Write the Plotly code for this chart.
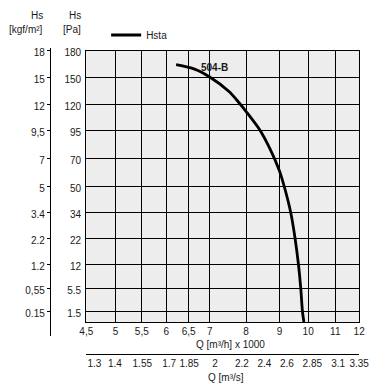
import numpy as np
import plotly.graph_objects as go

# ---------------- data ----------------
q_ticks = [4.5, 5, 5.5, 6, 6.5, 7, 8, 9, 10, 11, 12]
q_ticktext = ["4,5", "5", "5,5", "6", "6,5", "7", "8", "9", "10", "11", "12"]
qs_ticktext = ["1.3", "1.4", "1.55", "1.7", "1.85", "2", "2.2", "2.4", "2.6", "2.85", "3.1", "3.35"]
pa_ticks = [180, 150, 120, 95, 70, 50, 34, 22, 12, 5.5, 1.5]
pa_ticktext = ["180", "150", "120", "95", "70", "50", "34", "22", "12", "5.5", "1.5"]
kgf_ticktext = ["18", "15", "12", "9,5", "7", "5", "3.4", "2.2", "1.2", "0,55", "0.15"]

# Hsta curve of fan 504-B : Q [m3/h x 1000] vs Hs [Pa]
q_curve = [6.22, 6.64, 7.0, 7.53, 7.8, 8.0, 8.41, 8.70, 8.99, 9.16, 9.39, 9.54, 9.66, 9.74, 9.80, 9.85]
pa_curve = [164, 159, 150, 133.9, 121.7, 112.9, 95.5, 79.4, 61.4, 49.9, 34, 22, 12, 5.5, 1.5, 0]

# ---------------- layout constants (chart's non-linear scales, in px) ----------------
Q_POS = [0, 29.8, 56.8, 81.8, 104.8, 126.3, 163.6, 197.8, 227.1, 254.8, 279.3]
QS_POS = [8.3, 29.3, 57.3, 84.8, 105.3, 131.8, 159.3, 182.3, 205.3, 231.3, 257.8, 279.3]
PA_POS = [271.3, 245, 218, 191.5, 163.5, 136, 109.5, 84, 57.5, 34, 10.5]

OFF = 8  # page body margin
W, H = 381, 376
ML, MR, MT, MB = 12, 21, 32, 20
PW, PH = W - ML - MR, H - MT - MB


def fx(px):  # screen px -> paper fraction
    return (px - OFF - ML) / PW


def fy(py):
    return (H - MB - (py - OFF)) / PH


# scale transform through the axes' tick scales
xc = np.interp(q_curve, q_ticks, Q_POS)
pa_asc = [0] + pa_ticks[::-1]
pos_asc = [0] + PA_POS[::-1]
yc = np.interp(pa_curve, pa_asc, pos_asc)

FONT = "Liberation Sans, Arial, sans-serif"
TXT = "#1a1a1a"

fig = go.Figure()
fig.add_trace(go.Scatter(x=xc, y=yc, mode="lines", name="Hsta",
                         line=dict(color="black", width=2.8, shape="spline", smoothing=0.8),
                         xaxis="x", yaxis="y"))
# helpers so the secondary axes are drawn
fig.add_trace(go.Scatter(x=[None], y=[None], xaxis="x2", yaxis="y", showlegend=False, hoverinfo="skip"))
fig.add_trace(go.Scatter(x=[None], y=[None], xaxis="x3", yaxis="y2", showlegend=False, hoverinfo="skip"))

plot_top, plot_bot = 50.7, 322
fig.update_layout(
    width=W, height=H,
    margin=dict(l=ML, r=MR, t=MT, b=MB),
    paper_bgcolor="white", plot_bgcolor="white",
    font=dict(family=FONT, size=10, color=TXT),
    showlegend=True,
    legend=dict(x=fx(101), y=fy(35), xanchor="left", yanchor="middle",
                bgcolor="rgba(0,0,0,0)", font=dict(size=10, color=TXT)),
    xaxis=dict(domain=[fx(80.7), fx(360)], range=[0, 279.3], anchor="y",
               tickmode="array", tickvals=Q_POS, ticktext=q_ticktext,
               showgrid=True, gridcolor="black", gridwidth=1.3,
               showline=True, linecolor="black", linewidth=1.3, mirror=True,
               ticks="", zeroline=False, tickfont=dict(size=10, color=TXT)),
    yaxis=dict(domain=[fy(plot_bot), fy(plot_top)], range=[0, 271.3], anchor="x",
               tickmode="array", tickvals=PA_POS, ticktext=pa_ticktext,
               showgrid=True, gridcolor="black", gridwidth=1.3,
               showline=True, linecolor="black", linewidth=1.3, mirror=True,
               ticks="", zeroline=False, ticklabelshift=2, ticklabelstandoff=2,
               tickfont=dict(size=10, color=TXT)),
    xaxis2=dict(overlaying="x", anchor="free", position=fy(354), side="bottom",
                range=[0, 279.3], tickmode="array", tickvals=QS_POS, ticktext=qs_ticktext,
                showgrid=False, zeroline=False, showline=True, linecolor="black", linewidth=1.2,
                ticks="", tickfont=dict(size=10, color=TXT)),
    xaxis3=dict(domain=[fx(44.5), fx(70)], anchor="y2", visible=False, range=[0, 1]),
    yaxis2=dict(domain=[fy(336), fy(48)], anchor="x3", side="left",
                range=[322 - 336, 322 - 48], tickmode="array", tickvals=PA_POS, ticktext=kgf_ticktext,
                showgrid=False, zeroline=False, showline=True, linecolor="black", linewidth=1.3,
                ticks="outside", ticklen=3, tickcolor="black", tickwidth=1,
                ticklabelshift=2, tickfont=dict(size=10, color=TXT)),
    shapes=[dict(type="rect", xref="x domain", yref="y domain", x0=0, x1=1, y0=0, y1=1,
                 fillcolor="#ECEDEC", line=dict(width=0), layer="below")],
)

ann = [
    dict(text="Hs", x=fx(38), y=fy(15), xanchor="right"),
    dict(text="[kgf/m²]", x=fx(38), y=fy(29), xanchor="right"),
    dict(text="Hs", x=fx(77), y=fy(15), xanchor="right"),
    dict(text="[Pa]", x=fx(77), y=fy(29), xanchor="right"),
    dict(text="Q [m³/h] x 1000", x=fx(228), y=fy(344), xanchor="center"),
    dict(text="Q [m³/s]", x=fx(224), y=fy(377), xanchor="center"),
    dict(text="<b>504-B</b>", x=fx(212), y=fy(67), xanchor="center"),
]
for a in ann:
    fig.add_annotation(xref="paper", yref="paper", yanchor="middle", showarrow=False,
                       font=dict(size=10, color=TXT, family=FONT), **a)

fig.write_html("out.html")
